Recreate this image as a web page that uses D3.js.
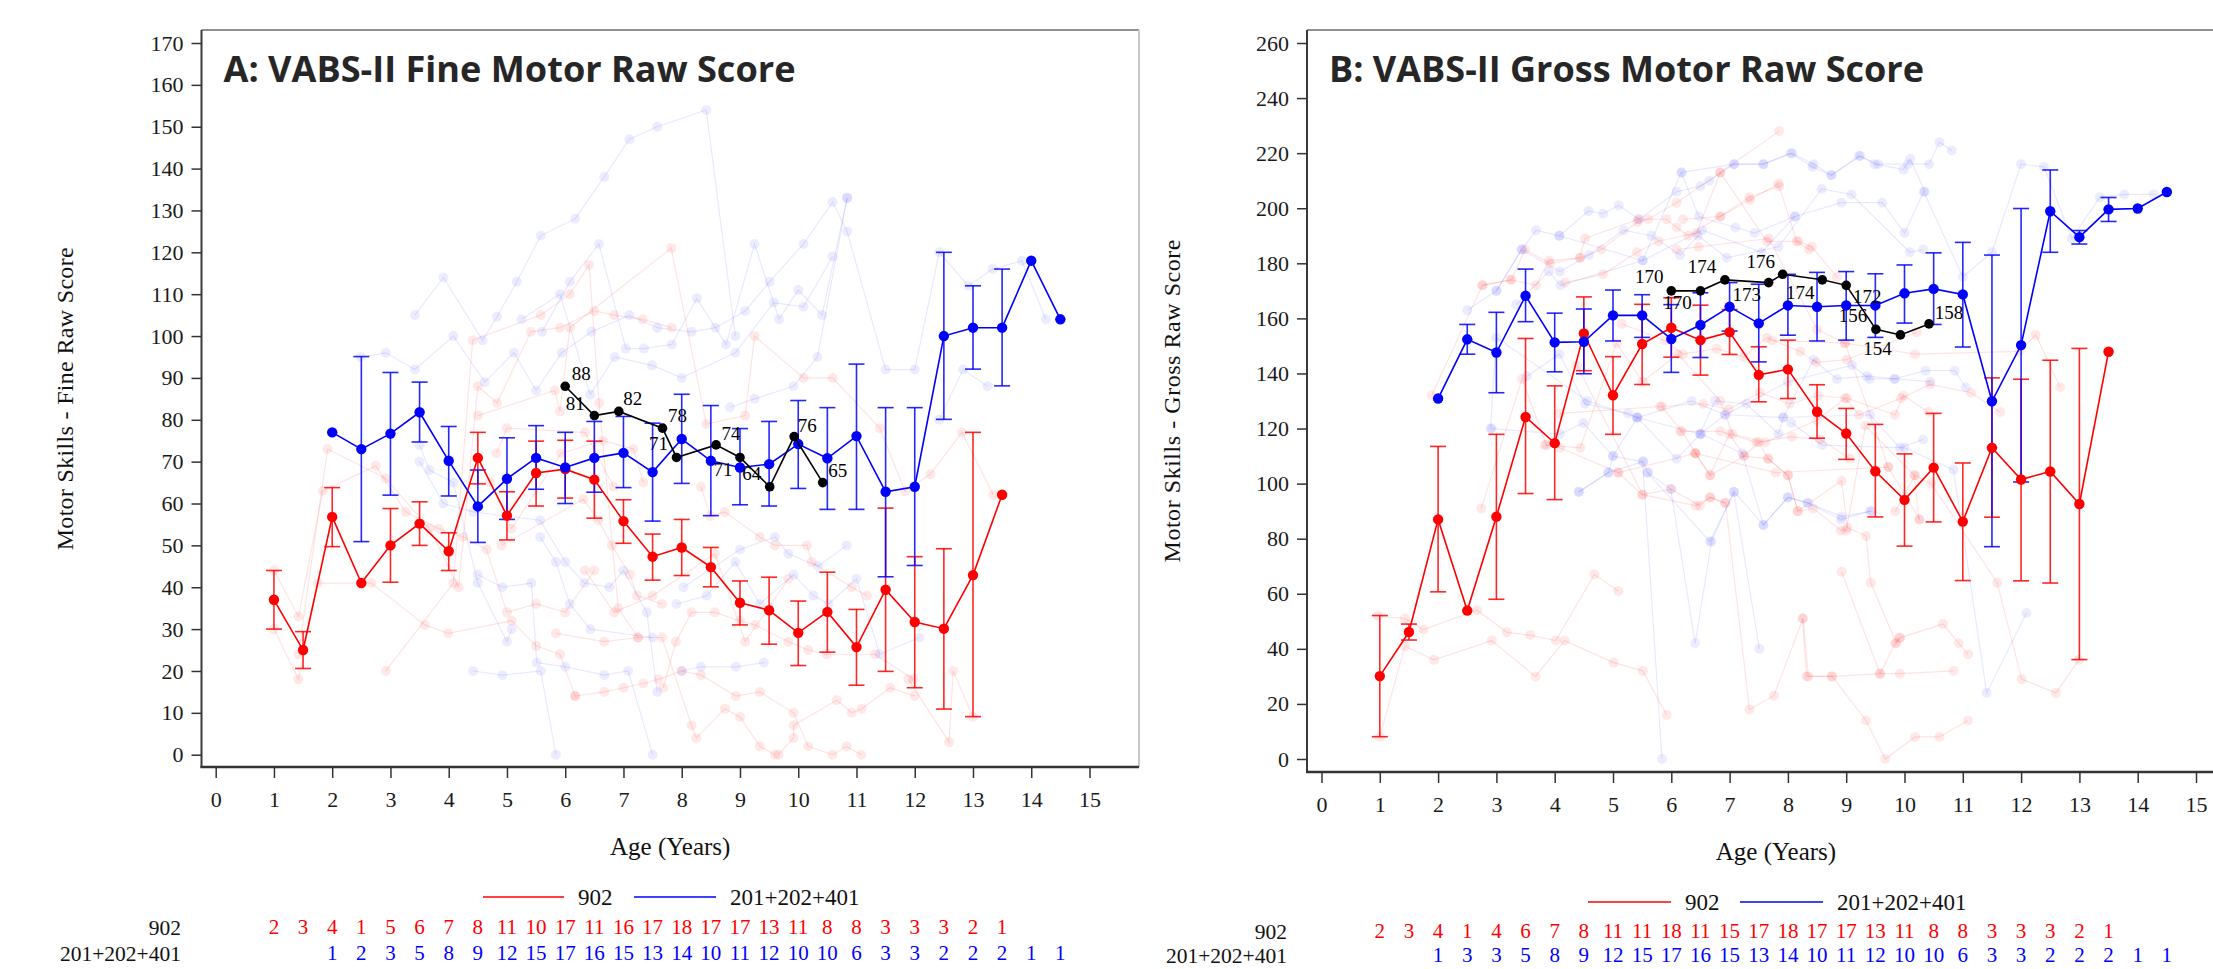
<!DOCTYPE html>
<html><head><meta charset="utf-8">
<script src="https://cdn.jsdelivr.net/npm/d3@7"></script>
<style>body{margin:0;background:#fff;overflow:hidden} svg{display:block}</style>
</head><body><svg id="c" width="2213" height="969"></svg>
<script>
// ---------------- DATA ----------------
const ageTicks = [0,1,2,3,4,5,6,7,8,9,10,11,12,13,14,15];
const fineYTicks = [0,10,20,30,40,50,60,70,80,90,100,110,120,130,140,150,160,170];
const grossYTicks = [0,20,40,60,80,100,120,140,160,180,200,220,240,260];

const ageRed  = [1,1.5,2,2.5,3,3.5,4,4.5,5,5.5,6,6.5,7,7.5,8,8.5,9,9.5,10,10.5,11,11.5,12,12.5,13,13.5];
const ageBlue = [2,2.5,3,3.5,4,4.5,5,5.5,6,6.5,7,7.5,8,8.5,9,9.5,10,10.5,11,11.5,12,12.5,13,13.5,14,14.5];

const fineRedN   = [2,3,4,1,5,6,7,8,11,10,17,11,16,17,18,17,17,13,11,8,8,3,3,3,2,1];
const fineBlueN  = [1,2,3,5,8,9,12,15,17,16,15,13,14,10,11,12,10,10,6,3,3,2,2,2,1,1];
const grossRedN  = [2,3,4,1,4,6,7,8,11,11,18,11,15,17,18,17,17,13,11,8,8,3,3,3,2,1];
const grossBlueN = [1,3,3,5,8,9,12,15,17,16,15,13,14,10,11,12,10,10,6,3,3,2,2,2,1,1];

const fineRedMean = [37,25,56.8,41,50,55.2,48.6,70.9,57.1,67.3,68.2,65.7,55.8,47.3,49.5,44.8,36.3,34.5,29.1,34.1,25.7,39.4,31.7,30.1,42.9,62.1];
const fineRedHi   = [44,29.4,63.8,null,58.8,60.4,53,77,62.8,74.9,75.1,74.9,60.9,52.7,56.2,49.5,41.5,42.4,36.7,43.6,34.7,58.9,47.3,49.2,77,null];
const fineRedLo   = [30,20.6,49.7,null,41.2,50,44,64.7,51.3,59.4,61.3,56.5,50.5,41.7,42.8,40.1,31,26.4,21.3,24.5,16.6,19.9,16,10.9,9.1,null];

const fineBlueMean = [77,73,76.7,81.8,70.2,59.3,65.9,70.9,68.6,70.9,72.1,67.5,75.4,70.2,68.6,69.4,74.2,70.8,76.1,62.8,64,100,102,102,118,104];
const fineBlueHi   = [null,95.1,91.3,89,78.4,68,75.7,78.6,77,79.6,80.8,79.2,86.1,83.4,77.9,79.6,84.6,82.9,93.3,82.9,82.9,120,112,116,null,null];
const fineBlueLo   = [null,50.9,62,74.7,61.8,50.7,56.2,63.4,60,62.7,63.8,55.8,64.8,57.1,59.7,59.4,63.6,58.6,58.6,42.5,45.2,80.1,92.1,88.1,null,null];

const grossRedMean = [30.1,46.1,87,53.9,88,124.2,114.7,154.5,132.1,150.7,156.6,152.1,155,139.5,141.5,126.1,118.2,104.5,94.1,105.8,86.2,113,101.5,104.4,92.6,147.9];
const grossRedHi   = [52.1,49,113.5,null,117.9,152.7,135.5,167.8,146.1,165.1,167.5,164.8,163.2,149.7,152.1,135.9,127.3,121.5,110.8,125.5,107.5,138.4,137.9,144.8,149.1,null];
const grossRedLo   = [8.1,43.2,60.7,null,58,96.4,94.2,141,117.9,136,145.9,139.4,146.9,129.7,130.9,116.5,108.8,87.9,77.3,86.1,64.8,87.8,64.7,63.9,36.1,null];

const grossBlueMean = [130.9,152.4,147.6,168.2,151.3,151.5,161.1,161.1,152.5,157.6,164.2,158.2,164.7,164.2,164.7,164.7,169.1,170.7,168.7,129.9,150.3,198.9,189.5,199.6,199.9,205.9];
const grossBlueHi   = [null,157.8,162.2,177.9,161.9,163.4,170.3,168.6,165,169.3,173,172.4,176,176.7,177,176.2,179.4,183.8,187.6,183,199.9,213.9,191.9,203.9,null,null];
const grossBlueLo   = [null,147,133,158.8,140.6,139.9,151.8,153.1,140.4,145.8,155.4,144.2,153.9,151.8,152.1,153.1,158.3,157.8,149.6,77.1,100.6,184,187,195.2,null,null];

const subjectAge  = [6.0,6.5,6.92,7.67,7.91,8.59,9.0,9.51,9.93,10.42];
const subjectFine = [88,81,82,78,71,74,71,64,76,65];
const subjectGross= [170,170,174,173,176,174,172,156,154,158];

const fineRedKids = [
 [[1.0,44],[1.42,33],[1.84,63],[2.75,69],[3.26,58],[3.83,54],[4.25,52],[4.65,49],[5.0,34],[5.5,36],[6.0,34],[6.5,44]],
 [[1.0,30],[1.42,18],[1.75,41],[2.67,41],[3.59,31],[3.99,29],[5.08,32],[5.5,26],[5.91,24],[6.17,14]],
 [[1.42,24],[1.92,73],[2.92,66],[3.67,54],[4.17,40],[4.5,88],[4.83,84],[5.41,101],[5.91,102],[6.5,106],[6.84,105],[7.33,104],[7.83,102]],
 [[2.92,20],[4.08,41],[4.41,99],[5.58,105],[6.08,110],[6.41,117],[6.58,84],[6.91,35],[7.25,28]],
 [[4.5,81],[5.82,87],[5.91,82],[6.08,102],[7.82,121],[8.42,79],[9.09,81],[9.25,100],[10.09,90],[10.59,90],[11.4,78],[11.83,63],[12.27,67],[12.81,77],[13.35,62]],
 [[5.84,29],[6.67,27],[7.25,28],[7.66,28],[8.17,7],[8.25,4],[8.74,11],[9.0,9],[9.34,2],[9.6,0]],
 [[6.17,14],[6.67,15],[7.0,16],[7.34,17],[7.6,18],[8.0,20],[8.33,19],[8.93,14],[9.34,15],[9.92,10],[10.17,2],[10.59,0],[10.83,2],[11.08,0]],
 [[9.66,0],[9.92,4],[9.92,7],[10.66,13],[10.92,10],[11.09,11],[11.58,16],[12.0,14]],
 [[11.89,18],[12.59,3],[12.66,20],[13.0,9]],
 [[7.68,16],[7.9,27],[8.17,34],[8.57,34],[9.0,32],[9.26,31],[9.83,27],[10.17,25],[10.49,24],[11.32,24],[11.98,18]],
 [[8.33,64],[8.49,57],[8.74,58],[9.34,52],[9.6,50],[10.15,50],[10.23,46],[10.92,40],[11.18,38]],
 [[6.34,44],[6.84,34],[7.5,38],[8.57,48],[9.09,27],[9.83,42]],
 [[4.71,65],[5.08,54],[5.93,72],[6.65,75],[7.17,73],[7.34,65]],
 [[4.91,50],[6.31,61],[6.57,56],[6.8,50],[7.11,43],[7.23,38],[7.66,36]],
 [[4.82,72],[5.0,78],[6.34,77],[6.83,64]]
];
const fineBlueKids = [
 [[3.42,105],[3.91,114],[4.58,99],[4.83,104.6],[5.17,113],[5.58,124],[6.17,128],[6.67,138],[7.10,147],[7.58,150],[8.42,154],[8.92,100]],
 [[2.49,95],[2.92,96],[3.42,92],[4.08,100],[4.62,89],[5.12,96],[5.5,87],[5.94,96],[6.45,101],[7.1,105],[7.58,102],[8.17,101],[8.58,102],[9.09,106],[9.51,113],[10.09,122],[10.59,132],[10.84,125],[11.5,92],[12.0,92],[12.42,120],[12.92,112],[13.34,116],[13.84,118],[14.25,104]],
 [[5.6,101],[6.08,113],[6.58,122],[7.04,97],[7.35,97],[7.83,98],[8.26,109],[8.76,98],[9.25,122],[9.67,104],[10.0,111],[10.41,105],[10.84,133]],
 [[5.25,104],[5.91,110],[6.43,86],[6.85,95],[7.49,93],[8.0,90],[8.92,96],[9.58,108],[10.09,107],[10.59,119]],
 [[4.42,20],[4.92,19],[5.58,20],[5.84,0]],
 [[4.5,43],[4.92,40],[5.42,41],[5.51,22],[6.0,21],[6.67,19],[7.08,20],[7.5,0]],
 [[3.5,74],[3.67,68],[4.08,65],[4.5,41],[5.0,27],[5.08,30]],
 [[3.5,70],[3.91,60],[4.42,58],[5.57,56],[6.0,46],[6.33,41],[6.76,40],[7.0,44],[7.4,34],[7.58,15]],
 [[5.57,52],[5.84,46],[6.08,36],[6.43,30],[7.5,28]],
 [[12.42,80],[12.83,92],[13.25,88]],
 [[7.91,36],[8.43,38],[8.92,46],[9.34,36],[9.92,43],[10.26,38],[10.52,36],[11.0,42],[11.4,24],[12.08,28]],
 [[8.0,20],[8.33,21],[8.93,21],[9.41,22]],
 [[8.03,40],[9.0,49],[9.6,52],[9.83,48],[10.34,45],[10.83,50]],
 [[8.83,83],[9.25,85],[9.92,88],[10.33,95],[10.84,133]]
];
const grossRedKids = [
 [[0.97,52],[1.43,51],[1.75,47],[2.67,54],[3.18,46],[3.58,45],[4.02,43],[4.68,67],[5.09,61]],
 [[1.0,8],[1.43,41],[1.93,36],[2.92,43],[3.67,30],[4.17,43],[5.01,35],[5.51,32],[5.92,16]],
 [[1.89,132],[2.76,172],[3.24,174],[3.68,172],[3.9,181],[4.44,182],[4.8,185],[5.42,195],[5.6,196],[6.09,202],[6.84,213],[7.85,228]],
 [[2.74,91],[3.44,138],[3.86,114],[4.44,113],[5.06,151],[5.51,137],[6.11,147],[6.84,130],[7.05,118],[7.61,115],[8.5,123],[8.98,131],[9.22,125],[9.94,131],[10.44,136],[11.14,133],[11.64,126]],
 [[4.38,143],[5.51,96],[6.42,92],[6.67,95],[6.93,93],[7.34,18],[7.76,23],[8.26,51],[8.35,30],[8.76,30],[9.34,14],[9.67,0],[10.18,8],[10.6,8],[11.09,14]],
 [[5.09,104],[6.41,111],[6.67,103],[7.25,110],[7.66,109],[8.0,103],[8.17,90],[8.92,101],[9.02,84],[9.34,81],[9.42,64],[9.86,42],[9.92,44],[10.66,49],[10.93,42],[11.09,38]],
 [[6.2,196],[6.84,197],[7.34,204],[7.85,208],[8.15,188],[8.36,185]],
 [[6.09,185],[6.47,186],[7.67,189],[8.5,156],[8.98,151],[9.72,106]],
 [[8.92,68],[9.58,31],[9.92,31],[10.84,32]],
 [[9.84,90],[10.18,103],[10.46,100],[11.59,64],[12.01,29],[12.6,24],[12.99,36]],
 [[7.73,152],[8.98,151],[10.18,147],[11.97,148],[12.25,154],[12.67,135]],
 [[6.41,111],[7.79,104],[9.72,106],[10.26,87]],
 [[2.76,172],[3.26,174],[3.49,185],[3.92,180],[4.43,182],[4.52,189],[5.43,196],[5.92,196],[6.09,193],[6.29,190],[6.84,197],[7.35,203],[7.84,209]],
 [[4.18,173],[4.83,176],[5.41,184],[5.78,188],[6.43,191],[6.84,213],[7.64,188],[8.18,188],[8.41,186],[8.84,175]],
 [[5.15,158],[5.89,152],[6.2,147],[6.78,149],[7.24,146],[7.64,153],[8.21,148],[8.49,144],[9.01,145],[10.21,155]],
 [[4.09,125.5],[5.81,128],[6.55,129],[6.98,127],[7.52,133],[8.03,129],[8.52,132],[9.01,131],[9.84,125],[9.98,132],[10.41,126]],
 [[3.83,114],[4.09,113],[5.09,104],[5.5,96],[6.0,98],[6.49,92],[6.66,95],[6.92,93]],
 [[5.84,128],[6.18,119],[6.42,111],[6.66,103],[7.0,118],[7.25,110],[7.5,115],[7.66,109],[8.0,103],[8.17,90],[8.43,91],[8.91,83],[9.0,83],[9.33,121],[10.17,103],[10.25,87]],
 [[6.15,119],[6.84,119],[7.46,115],[8.07,117],[8.55,116],[9.07,109]],
 [[8.25,51],[8.32,30],[8.75,30],[9.58,31],[9.84,42],[9.92,44]]
];
const grossBlueKids = [
 [[2.5,163],[3.0,170],[3.44,185],[3.68,192],[4.08,190],[4.58,199],[4.83,198],[5.1,201],[5.45,196],[6.09,206],[6.5,208],[6.65,210],[7.07,216],[7.58,216],[8.05,220],[8.42,215],[8.74,212],[9.22,219],[9.55,216],[10.06,216],[10.42,216],[10.6,224],[10.81,221]],
 [[3.34,165],[3.9,177],[4.1,172],[5.51,181],[6.17,213],[6.47,197],[7.1,193],[7.43,191],[8.12,197],[8.92,202],[9.62,202],[10.0,191],[10.33,206],[11.0,175],[11.5,184],[12.0,216],[12.39,215],[12.87,189],[13.35,204],[13.77,205],[14.27,205]],
 [[2.9,120],[3.0,153],[4.56,130],[5.42,124],[6.35,130],[6.93,125],[8.0,137],[9.1,143],[9.4,138],[9.82,138],[10.36,141],[10.86,141],[11.05,135]],
 [[4.41,97],[4.92,104],[5.0,110],[5.51,108],[5.84,0]],
 [[5.6,104],[5.99,98],[6.41,42],[6.69,79],[7.07,97],[7.51,40]],
 [[6.51,118],[7.22,111],[7.58,85],[8.0,95],[8.35,93],[8.92,88],[9.44,90]],
 [[8.06,122],[8.59,114],[10.0,113],[10.84,105],[11.41,24],[12.09,53]],
 [[4.08,190],[5.51,181],[6.53,192],[7.55,184],[8.12,197]],
 [[3.0,170],[3.43,185],[4.09,177],[4.59,183],[5.18,192],[5.66,190],[6.15,183],[6.46,190],[6.95,182],[7.84,186],[8.58,207],[9.09,205],[10.09,184],[10.32,185]],
 [[3.52,139],[4.08,147],[4.52,129],[5.26,125.5],[5.41,124],[6.49,118],[6.75,130],[7.29,129],[7.84,118],[7.92,124],[8.44,145],[8.84,138],[9.35,139],[9.84,138],[10.44,137]],
 [[2.92,120],[4.09,118],[4.49,122],[5.0,110],[5.42,124],[6.09,109],[6.5,118],[6.92,125],[7.92,124],[9.41,125],[9.92,113],[10.32,116]],
 [[4.42,97],[4.92,104],[5.52,108],[5.59,104],[6.66,79],[7.08,97],[7.58,85],[8.0,95],[8.33,93],[8.91,87],[9.41,90]],
 [[6.18,213],[7.08,216],[7.58,216],[8.07,220],[8.44,216],[8.75,212],[9.24,219],[9.49,216],[9.98,214],[10.1,218],[10.35,206]]
];

const legendNames = ["902","201+202+401"];

// ---------------- DRAW ----------------
const svg = d3.select('#c');
const RED = '#ff0000', BLUE = '#0000ff';
const SERIF = "'Liberation Serif','Times New Roman',serif";

function drawPanel(o){
  const g = svg.append('g');
  const f = o.frame;
  const x = d3.scaleLinear().domain([0,15]).range(o.xr);
  const y = d3.scaleLinear().domain([0,o.ymax]).range(o.yr);

  const line = d3.line().x(d=>x(d[0])).y(d=>y(d[1]));
  [[o.redKids,'rgba(255,0,0,0.11)','rgba(255,0,0,0.09)'],[o.blueKids,'rgba(0,0,255,0.09)','rgba(0,0,255,0.075)']].forEach(([kids,lc,pc])=>{
    const kg = g.append('g');
    kids.forEach(k=>{
      kg.append('path').attr('d',line(k)).attr('fill','none').attr('stroke',lc).attr('stroke-width',1.2);
      kg.selectAll(null).data(k).enter().append('circle')
        .attr('cx',d=>x(d[0])).attr('cy',d=>y(d[1])).attr('r',5).attr('fill',pc);
    });
  });

  function errBars(ages,hi,lo,col){
    const eg = g.append('g').attr('stroke',col).attr('stroke-width',1.6).attr('stroke-opacity',0.85);
    ages.forEach((a,i)=>{
      if(hi[i]==null) return;
      const cx = x(a);
      eg.append('line').attr('x1',cx).attr('x2',cx).attr('y1',y(hi[i])).attr('y2',y(lo[i]));
      eg.append('line').attr('x1',cx-8).attr('x2',cx+8).attr('y1',y(hi[i])).attr('y2',y(hi[i]));
      eg.append('line').attr('x1',cx-8).attr('x2',cx+8).attr('y1',y(lo[i])).attr('y2',y(lo[i]));
    });
  }
  errBars(ageRed,o.redHi,o.redLo,RED);
  errBars(ageBlue,o.blueHi,o.blueLo,BLUE);

  function meanLine(ages,vals,col,r){
    const pts = ages.map((a,i)=>[a,vals[i]]);
    g.append('path').attr('d',line(pts)).attr('fill','none').attr('stroke',col).attr('stroke-width',1.6);
    g.selectAll(null).data(pts).enter().append('circle')
      .attr('cx',d=>x(d[0])).attr('cy',d=>y(d[1])).attr('r',r).attr('fill',col);
  }
  meanLine(ageRed,o.redMean,RED,5.2);
  meanLine(ageBlue,o.blueMean,BLUE,5.2);
  meanLine(subjectAge,o.subj,'#000',4.8);

  const lg = g.append('g').attr('font-family',SERIF).attr('font-size',19).attr('fill','#000').attr('text-anchor','middle');
  subjectAge.forEach((a,i)=>{
    lg.append('text').attr('x',x(a)+o.lblOff[i][0]).attr('y',y(o.subj[i])+o.lblOff[i][1]).attr('dy','0.35em').text(Math.round(o.subj[i]));
  });

  // frame
  g.append('line').attr('x1',f.x0).attr('x2',f.x1).attr('y1',f.y0).attr('y2',f.y0).attr('stroke','#6b6b6b').attr('stroke-width',1.5);
  g.append('line').attr('x1',f.x1).attr('x2',f.x1).attr('y1',f.y0).attr('y2',f.y1).attr('stroke','#c8c8c8').attr('stroke-width',2);
  g.append('line').attr('x1',f.x0).attr('x2',f.x0).attr('y1',f.y0).attr('y2',f.y1+1).attr('stroke','#3a3a3a').attr('stroke-width',2);
  g.append('line').attr('x1',f.x0-1).attr('x2',f.x1).attr('y1',f.y1).attr('y2',f.y1).attr('stroke','#333').attr('stroke-width',2.5);

  // axes
  const ya = g.append('g').attr('transform',`translate(${f.x0},0)`)
    .call(d3.axisLeft(y).tickValues(o.yTicks).tickSize(10).tickPadding(8));
  const xa = g.append('g').attr('transform',`translate(0,${f.y1})`)
    .call(d3.axisBottom(x).tickValues(ageTicks).tickSize(11).tickPadding(13));
  [ya,xa].forEach(a=>{
    a.select('.domain').remove();
    a.selectAll('.tick line').attr('stroke','#333').attr('stroke-width',1.5);
    a.selectAll('.tick text').attr('font-family',SERIF).attr('font-size',22).attr('fill','#1a1a1a');
  });

  // title
  g.append('text').attr('x',f.x0+22).attr('y',82).attr('font-family',"'Open Sans',sans-serif")
    .attr('font-weight',700).attr('font-size',36).attr('fill','#262626')
    .attr('textLength',o.titleLen).attr('lengthAdjust','spacingAndGlyphs').text(o.title);

  // axis titles
  g.append('text').attr('transform',`translate(${o.ylx},${(o.yr[0]+o.yr[1])/2}) rotate(-90)`)
    .attr('text-anchor','middle').attr('dy','0.35em').attr('font-family',SERIF).attr('font-size',24)
    .attr('textLength',o.ylLen).attr('lengthAdjust','spacing').attr('fill','#111').text(o.ylab);
  g.append('text').attr('x',(f.x0+f.x1)/2).attr('y',o.xlabY).attr('text-anchor','middle')
    .attr('font-family',SERIF).attr('font-size',25).attr('fill','#111').text('Age (Years)');

  // legend
  const L = o.legend;
  g.append('line').attr('x1',L.r0).attr('x2',L.r1).attr('y1',L.y).attr('y2',L.y).attr('stroke','rgba(255,0,0,0.75)').attr('stroke-width',2);
  g.append('text').attr('x',L.r1+14).attr('y',L.y).attr('dy','0.35em').attr('font-family',SERIF).attr('font-size',23).attr('fill','#111').text(legendNames[0]);
  g.append('line').attr('x1',L.b0).attr('x2',L.b1).attr('y1',L.y).attr('y2',L.y).attr('stroke','rgba(0,0,255,0.75)').attr('stroke-width',2);
  g.append('text').attr('x',L.b1+14).attr('y',L.y).attr('dy','0.35em').attr('font-family',SERIF).attr('font-size',23).attr('fill','#111').text(legendNames[1]);

  // counts table
  const T = o.table;
  [[legendNames[0],T.y1,ageRed,o.redN,RED],[legendNames[1],T.y2,ageBlue,o.blueN,BLUE]].forEach(([nm,yy,ages,ns,col])=>{
    g.append('text').attr('x',T.lx).attr('y',yy).attr('dy','0.35em').attr('text-anchor','end')
      .attr('font-family',SERIF).attr('font-size',21.5).attr('fill','#111').text(nm);
    g.selectAll(null).data(ages).enter().append('text')
      .attr('x',d=>x(d)).attr('y',yy).attr('dy','0.35em').attr('text-anchor','middle')
      .attr('font-family',SERIF).attr('font-size',21).attr('fill',col).text((d,i)=>ns[i]);
  });
}

drawPanel({
  frame:{x0:201.5,x1:1139,y0:30,y1:767},
  xr:[215.7,1089.5], yr:[754.7,43], ymax:170, yTicks:fineYTicks,
  redKids:fineRedKids, blueKids:fineBlueKids,
  redMean:fineRedMean, redHi:fineRedHi, redLo:fineRedLo,
  blueMean:fineBlueMean, blueHi:fineBlueHi, blueLo:fineBlueLo,
  subj:subjectFine,
  lblOff:[[16,-13],[-19,-12],[14,-13],[15,-13],[-18,-14],[15,-12],[-17,12],[-18,-13],[13,-11],[15,-12]],
  title:'A: VABS-II Fine Motor Raw Score', titleLen:572,
  ylab:'Motor Skills - Fine Raw Score', ylx:65, ylLen:303, xlabY:855,
  legend:{y:897,r0:483,r1:564,b0:634,b1:716},
  table:{lx:181,y1:927,y2:953},
  redN:fineRedN, blueN:fineBlueN
});
drawPanel({
  frame:{x0:1307,x1:2245,y0:30,y1:772},
  xr:[1321.5,2196], yr:[759,43], ymax:260, yTicks:grossYTicks,
  redKids:grossRedKids, blueKids:grossBlueKids,
  redMean:grossRedMean, redHi:grossRedHi, redLo:grossRedLo,
  blueMean:grossBlueMean, blueHi:grossBlueHi, blueLo:grossBlueLo,
  subj:subjectGross,
  lblOff:[[-22,-14],[-23,12],[-23,-13],[-22,12],[-22,-13],[-22,13],[21,11],[-23,-14],[-23,13],[20,-12]],
  title:'B: VABS-II Gross Motor Raw Score', titleLen:595,
  ylab:'Motor Skills - Gross Raw Score', ylx:1172, ylLen:323, xlabY:860,
  legend:{y:902,r0:1588,r1:1671,b0:1740,b1:1823},
  table:{lx:1287,y1:931,y2:955},
  redN:grossRedN, blueN:grossBlueN
});
</script></body></html>
